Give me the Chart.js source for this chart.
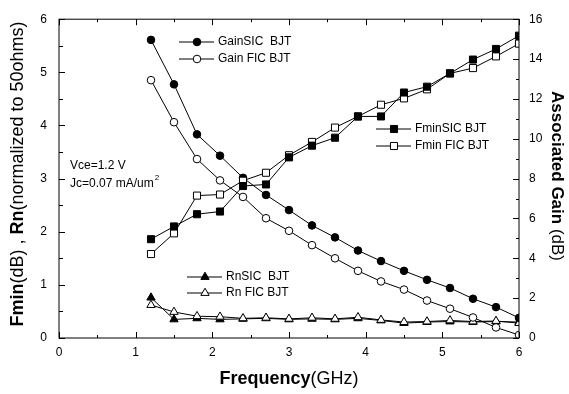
<!DOCTYPE html>
<html>
<head>
<meta charset="utf-8">
<script src="https://cdn.jsdelivr.net/npm/chart.js@4"></script>
<style>
  body { margin: 0; background: #fff; }
  canvas { display: block; }
</style>
</head>
<body>
<canvas id="chart" width="569" height="394"></canvas>
<script>
const freq = [1.2, 1.5, 1.8, 2.1, 2.4, 2.7, 3.0, 3.3, 3.6, 3.9, 4.2, 4.5, 4.8, 5.1, 5.4, 5.7, 6.0]
const gainSIC = [14.96, 12.73, 10.22, 9.15, 8.04, 7.18, 6.42, 5.65, 5.05, 4.39, 3.86, 3.37, 2.92, 2.51, 1.97, 1.55, 1.01]
const gainFIC = [12.94, 10.83, 8.98, 7.91, 7.08, 6.01, 5.38, 4.66, 4.00, 3.37, 2.84, 2.43, 1.88, 1.47, 1.03, 0.53, 0.15]
const fminSIC = [1.86, 2.10, 2.33, 2.38, 2.86, 2.89, 3.40, 3.62, 3.77, 4.17, 4.17, 4.62, 4.73, 4.98, 5.24, 5.44, 5.69]
const fminFIC = [1.58, 1.97, 2.68, 2.70, 2.96, 3.11, 3.44, 3.69, 3.96, 4.17, 4.39, 4.51, 4.68, 4.98, 5.08, 5.30, 5.54]
const rnSIC = [0.76, 0.35, 0.37, 0.35, 0.36, 0.37, 0.35, 0.36, 0.35, 0.37, 0.33, 0.28, 0.30, 0.31, 0.30, 0.31, 0.30]
const rnFIC = [0.62, 0.49, 0.41, 0.40, 0.37, 0.38, 0.36, 0.38, 0.36, 0.39, 0.34, 0.30, 0.31, 0.33, 0.31, 0.32, 0.28]
const xTicks = [0, 1, 2, 3, 4, 5, 6]
const leftTicks = [0, 1, 2, 3, 4, 5, 6]
const rightTicks = [0, 2, 4, 6, 8, 10, 12, 14, 16]

const FONT = "'Liberation Sans', Arial, sans-serif"

function pts(ys) {
  return freq.map((x, i) => ({ x: x, y: ys[i] }))
}

function series(label, ys, axis, style, filled, radius) {
  return {
    label: label,
    data: pts(ys),
    yAxisID: axis,
    borderColor: "#000",
    borderWidth: 1,
    pointStyle: style,
    pointRadius: radius,
    pointBorderWidth: 1,
    pointBorderColor: "#000",
    pointBackgroundColor: filled ? "#000" : "#fff",
    tension: 0,
    clip: 0
  }
}

// legend groups, drawn by the plugin below
const legends = [
  { x: 179, y: 42, text: "GainSIC  BJT", style: "circle", filled: true, r: 3.8 },
  { x: 179, y: 59, text: "Gain FIC BJT", style: "circle", filled: false, r: 3.8 },
  { x: 376, y: 129, text: "FminSIC BJT", style: "rect", filled: true, r: 5 },
  { x: 376, y: 146, text: "Fmin FIC BJT", style: "rect", filled: false, r: 5 },
  { x: 187, y: 277, text: "RnSIC  BJT", style: "triangle", filled: true, r: 4.8 },
  { x: 187, y: 293, text: "Rn FIC BJT", style: "triangle", filled: false, r: 4.8 }
]

function mixedText(ctx, parts, size) {
  let total = 0
  parts.forEach(p => {
    ctx.font = (p.b ? "bold " : "") + size + "px " + FONT
    p.w = ctx.measureText(p.t).width
    total += p.w
  })
  let x = -total / 2
  parts.forEach(p => {
    ctx.font = (p.b ? "bold " : "") + size + "px " + FONT
    ctx.fillText(p.t, x, 0)
    x += p.w
  })
}

const decorations = {
  id: "decorations",
  afterDraw(chart) {
    const ctx = chart.ctx
    const a = chart.chartArea
    const sx = chart.scales.x, sy = chart.scales.y, sg = chart.scales.y1
    ctx.save()
    ctx.strokeStyle = "#000"
    ctx.fillStyle = "#000"
    ctx.lineWidth = 1
    ctx.strokeRect(a.left, a.top, a.right - a.left, a.bottom - a.top)

    // inward ticks
    ctx.beginPath()
    sx.ticks.forEach(t => {
      const p = Math.round(sx.getPixelForValue(t.value)) + 0.5
      const len = Number.isInteger(t.value) ? 6 : 3
      ctx.moveTo(p, a.bottom); ctx.lineTo(p, a.bottom - len)
      ctx.moveTo(p, a.top); ctx.lineTo(p, a.top + len)
    })
    sy.ticks.forEach(t => {
      const p = Math.round(sy.getPixelForValue(t.value)) + 0.5
      const len = Number.isInteger(t.value) ? 6 : 4
      ctx.moveTo(a.left, p); ctx.lineTo(a.left + len, p)
    })
    sg.ticks.forEach(t => {
      const p = Math.round(sg.getPixelForValue(t.value)) + 0.5
      const len = t.value % 2 === 0 ? 6 : 3
      ctx.moveTo(a.right, p); ctx.lineTo(a.right - len, p)
    })
    ctx.stroke()

    // legends
    ctx.textBaseline = "middle"
    ctx.textAlign = "left"
    legends.forEach(l => {
      ctx.beginPath()
      ctx.moveTo(l.x, l.y); ctx.lineTo(l.x + 35, l.y)
      ctx.stroke()
      ctx.fillStyle = l.filled ? "#000" : "#fff"
      Chart.helpers.drawPoint(ctx, { pointStyle: l.style, radius: l.r, borderWidth: 1 }, l.x + 18, l.y)
      ctx.fillStyle = "#000"
      ctx.font = "12px " + FONT
      ctx.fillText(l.text, l.x + 39, l.y)
    })

    // condition note
    ctx.font = "12px " + FONT
    ctx.fillText("Vce=1.2 V", 70, 166)
    const jc = "Jc=0.07 mA/um"
    ctx.fillText(jc, 70, 184)
    const w = ctx.measureText(jc).width
    ctx.font = "8px " + FONT
    ctx.fillText("2", 70 + w + 1, 178)

    // axis titles
    ctx.textAlign = "left"
    ctx.save()
    ctx.translate(289, 379)
    mixedText(ctx, [{ t: "Frequency", b: true }, { t: "(GHz)", b: false }], 18)
    ctx.restore()

    ctx.save()
    ctx.translate(18, 174)
    ctx.rotate(-Math.PI / 2)
    mixedText(ctx, [{ t: "Fmin", b: true }, { t: "(dB) , ", b: false }, { t: "Rn", b: true }, { t: "(normalized to 50ohms)", b: false }], 18)
    ctx.restore()

    ctx.save()
    ctx.translate(557, 176)
    ctx.rotate(Math.PI / 2)
    mixedText(ctx, [{ t: "Associated Gain", b: true }, { t: " (dB)", b: false }], 17)
    ctx.restore()

    ctx.restore()
  }
}

const tickFont = { family: FONT, size: 12 }

new Chart(document.getElementById("chart"), {
  type: "line",
  data: {
    datasets: [
      series("FminSIC BJT", fminSIC, "y", "rect", true, 5),
      series("Fmin FIC BJT", fminFIC, "y", "rect", false, 5),
      series("GainSIC BJT", gainSIC, "y1", "circle", true, 3.8),
      series("Gain FIC BJT", gainFIC, "y1", "circle", false, 3.8),
      series("Rn FIC BJT", rnFIC, "y", "triangle", false, 4.8),
      series("RnSIC BJT", rnSIC, "y", "triangle", true, 4.8)
    ]
  },
  options: {
    responsive: false,
    animation: false,
    devicePixelRatio: 1,
    layout: { padding: { top: 15, left: 0, right: 0, bottom: 0 } },
    plugins: { legend: { display: false }, tooltip: { enabled: false } },
    scales: {
      x: {
        type: "linear",
        min: 0, max: 6,
        grid: { display: false, drawTicks: false },
        border: { display: false },
        ticks: {
          stepSize: 0.5, padding: 7, color: "#000", font: tickFont,
          callback: v => xTicks.includes(v) ? String(v) : ""
        },
        afterFit: s => { s.height = 56 }
      },
      y: {
        position: "left",
        min: 0, max: 6,
        grid: { display: false, drawTicks: false },
        border: { display: false },
        ticks: {
          stepSize: 0.5, padding: 12, color: "#000", font: tickFont,
          callback: v => leftTicks.includes(v) ? String(v) : ""
        },
        afterFit: s => { s.width = 59 }
      },
      y1: {
        position: "right",
        min: 0, max: 16,
        grid: { display: false, drawTicks: false },
        border: { display: false },
        ticks: {
          stepSize: 1, padding: 10, color: "#000", font: tickFont,
          callback: v => rightTicks.includes(v) ? String(v) : ""
        },
        afterFit: s => { s.width = 50 }
      }
    }
  },
  plugins: [decorations]
})
</script>
</body>
</html>
